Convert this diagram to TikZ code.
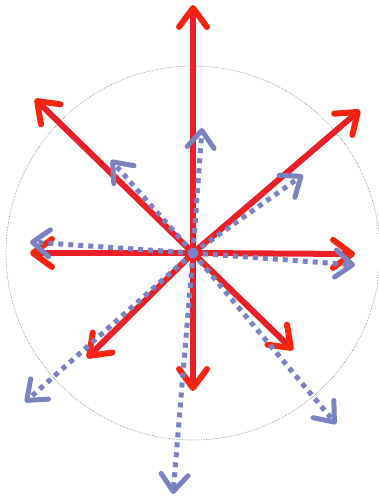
\documentclass[tikz,border=0pt]{standalone}
\usetikzlibrary{arrows.meta}
\definecolor{arrowred}{HTML}{EA2028}
\definecolor{tipred}{HTML}{FA2410}
\definecolor{arrowblue}{HTML}{7A82C2}
\begin{document}
\begin{tikzpicture}[x=1pt,y=-1pt,
  redarrow/.style={draw=arrowred,line width=6pt,-{Straight Barb[length=19pt,width=28pt,round,color=tipred]}},
  bluearrow/.style={draw=arrowblue,line width=5pt,dash pattern=on 5pt off 5pt,-{Straight Barb[length=17pt,width=27pt,round]}}]

\useasboundingbox (0,0) rectangle (378,501);

% centre and circle
\coordinate (o) at (193,253);
\draw[gray,densely dotted,line width=0.6pt] (o) circle (187);

% red tips
\coordinate (r1) at (193,5);
\coordinate (r2) at (35,99);
\coordinate (r3) at (360,110);
\coordinate (r4) at (30,253);
\coordinate (r5) at (355,254);
\coordinate (r6) at (87,358);
\coordinate (r7) at (193,391);
\coordinate (r8) at (293,350);

% blue tips
\coordinate (b1) at (202,128);
\coordinate (b2) at (111,160);
\coordinate (b3) at (303,175);
\coordinate (b4) at (30,242);
\coordinate (b5) at (355,265);
\coordinate (b6) at (25,402);
\coordinate (b7) at (336,424);
\coordinate (b8) at (173,494);

\draw[redarrow] (o) -- (r1);
\draw[redarrow] (o) -- (r2);
\draw[redarrow] (o) -- (r3);
\draw[redarrow] (o) -- (r4);
\draw[redarrow] (o) -- (r5);
\draw[redarrow] (o) -- (r6);
\draw[redarrow] (o) -- (r7);
\draw[redarrow] (o) -- (r8);

\draw[bluearrow] (o) -- (b1);
\draw[bluearrow] (o) -- (b2);
\draw[bluearrow] (o) -- (b3);
\draw[bluearrow] (o) -- (b4);
\draw[bluearrow] (o) -- (b5);
\draw[bluearrow] (o) -- (b6);
\draw[bluearrow] (o) -- (b7);
\draw[bluearrow] (o) -- (b8);

\end{tikzpicture}
\end{document}
